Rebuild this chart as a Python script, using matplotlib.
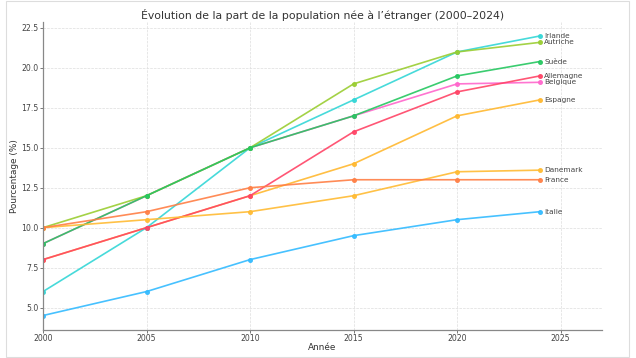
import matplotlib
matplotlib.use("Agg")
import matplotlib.pyplot as plt
from matplotlib.patches import Rectangle

years = [2000, 2005, 2010, 2015, 2020, 2024]

countries = ["Belgique", "Espagne", "Irlande", "Autriche", "Suède", "Allemagne",
             "Danemark", "France", "Italie"]

belgique = [9, 12, 15, 17, 19, 19.1]
espagne = [8, 10, 12, 14, 17, 18]
irlande = [6, 10, 15, 18, 21, 22]
autriche = [10, 12, 15, 19, 21, 21.6]
suede = [9, 12, 15, 17, 19.5, 20.4]
allemagne = [8, 10, 12, 16, 18.5, 19.5]
danemark = [10, 10.5, 11, 12, 13.5, 13.6]
france = [10, 11, 12.5, 13, 13, 13]
italie = [4.5, 6, 8, 9.5, 10.5, 11]

series = [belgique, espagne, irlande, autriche, suede, allemagne, danemark, france, italie]
colors = ["#FF66CC", "#FFB830", "#33D6D6", "#9ACD32", "#25C760", "#FF4466",
          "#FFBB33", "#FF7F45", "#33BBFF"]

fig = plt.figure(figsize=(6.36, 3.58), dpi=100)
ax = fig.add_axes([43/636, 1 - 329.5/358, (602 - 43)/636, (329.5 - 22)/358])

for name, vals, c in zip(countries, series, colors):
    ax.plot(years, vals, color=c, lw=1.2, marker="o", markersize=2.6, alpha=0.9)
    ax.text(years[-1] + 0.2, vals[-1], name, fontsize=5.3, color="#444444",
            va="center", ha="left")

ax.set_xlim(2000, 2027)
ax.set_ylim(3.625, 22.875)
ax.set_xticks([2000, 2005, 2010, 2015, 2020, 2025])
ax.set_yticks([5.0, 7.5, 10.0, 12.5, 15.0, 17.5, 20.0, 22.5])
ax.grid(True, linestyle="--", color="#dddddd", linewidth=0.5)
ax.set_axisbelow(True)
for s in ["top", "right"]:
    ax.spines[s].set_visible(False)
for s in ["left", "bottom"]:
    ax.spines[s].set_color("#888888")
    ax.spines[s].set_linewidth(0.9)
ax.tick_params(labelsize=5.6, colors="#444444", length=2, width=0.5, pad=1.5)
ax.set_xlabel("Année", fontsize=6.4, color="#333333", labelpad=0)
ax.set_ylabel("Pourcentage (%)", fontsize=6.4, color="#333333", labelpad=1)
ax.set_title("Évolution de la part de la population née à l’étranger (2000–2024)",
             fontsize=7.8, color="#333333", pad=2)

fig.patches.append(Rectangle((6/636, 1 - 356.5/358), (629 - 6)/636, (356.5 - 1)/358,
                             transform=fig.transFigure, fill=False,
                             edgecolor="#dddddd", linewidth=0.8))

fig.savefig("out.png", dpi=100)
